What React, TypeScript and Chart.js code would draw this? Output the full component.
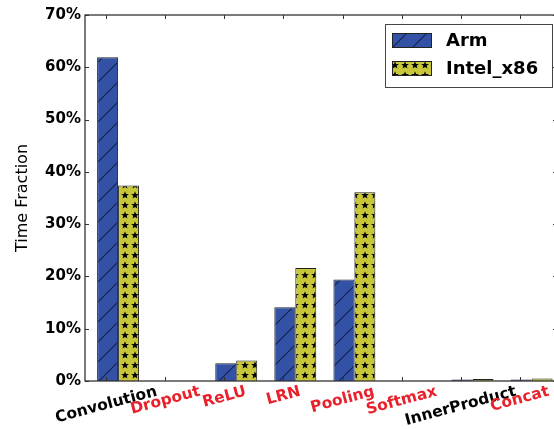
import React, { useEffect, useRef } from "react";
import { Chart, registerables } from "chart.js";

Chart.register(...registerables);

const categories = ["Convolution", "Dropout", "ReLU", "LRN", "Pooling", "Softmax", "InnerProduct", "Concat"];
const armValues = [61.9, 0, 3.4, 14.1, 19.4, 0, 0.3, 0.3];
const intelValues = [37.4, 0, 3.9, 21.6, 36.1, 0, 0.4, 0.5];
const seriesNames = ["Arm", "Intel_x86"];
const yTickValues = [0, 10, 20, 30, 40, 50, 60, 70];
const redLabels = ["Dropout", "ReLU", "LRN", "Pooling", "Softmax", "Concat"];

const FONT = "'DejaVu Sans', sans-serif";
const BLUE = "#3352a6";
const YELLOW = "#c8c73a";
const RED = "#e8222c";
const TICK_OFFSET = -0.2;

function makeHatch(ctx: CanvasRenderingContext2D) {
  const c = document.createElement("canvas");
  c.width = 20;
  c.height = 20;
  const g = c.getContext("2d")!;
  g.fillStyle = BLUE;
  g.fillRect(0, 0, 20, 20);
  g.strokeStyle = "#14204a";
  g.lineWidth = 1.1;
  g.beginPath();
  g.moveTo(-2, 22);
  g.lineTo(22, -2);
  g.moveTo(-2, 2);
  g.lineTo(2, -2);
  g.moveTo(18, 22);
  g.lineTo(22, 18);
  g.stroke();
  return ctx.createPattern(c, "repeat")!;
}

function makeStars(ctx: CanvasRenderingContext2D) {
  const c = document.createElement("canvas");
  c.width = 10;
  c.height = 10;
  const g = c.getContext("2d")!;
  g.fillStyle = YELLOW;
  g.fillRect(0, 0, 10, 10);
  g.fillStyle = "#000";
  g.beginPath();
  const cx = 5, cy = 5.3, ro = 4.1, ri = 1.75;
  for (let k = 0; k < 10; k++) {
    const r = k % 2 === 0 ? ro : ri;
    const a = -Math.PI / 2 + (k * Math.PI) / 5;
    const x = cx + r * Math.cos(a);
    const y = cy + r * Math.sin(a);
    if (k === 0) g.moveTo(x, y);
    else g.lineTo(x, y);
  }
  g.closePath();
  g.fill();
  return ctx.createPattern(c, "repeat")!;
}

const decorPlugin = {
  id: "decor",
  afterDraw(chart: any) {
    const { ctx, chartArea } = chart;
    const { left, right, top, bottom } = chartArea;
    const xs = chart.scales.x;
    const ys = chart.scales.y;
    ctx.save();
    // frame
    ctx.strokeStyle = "#333";
    ctx.lineWidth = 1.3;
    ctx.strokeRect(left, top, right - left, bottom - top);
    // inward ticks
    ctx.lineWidth = 1;
    ctx.beginPath();
    yTickValues.forEach((v) => {
      const y = Math.round(ys.getPixelForValue(v)) + 0.5;
      ctx.moveTo(left, y);
      ctx.lineTo(left + 4, y);
      ctx.moveTo(right, y);
      ctx.lineTo(right - 4, y);
    });
    categories.forEach((_, i) => {
      const x = Math.round(xs.getPixelForValue(i + TICK_OFFSET)) + 0.5;
      ctx.moveTo(x, bottom);
      ctx.lineTo(x, bottom - 4);
      ctx.moveTo(x, top);
      ctx.lineTo(x, top + 4);
    });
    ctx.stroke();
    // x labels
    const ang = (15 * Math.PI) / 180;
    ctx.font = `bold 15.5px ${FONT}`;
    ctx.textAlign = "center";
    ctx.textBaseline = "middle";
    categories.forEach((name, i) => {
      const x = xs.getPixelForValue(i + TICK_OFFSET);
      const w = ctx.measureText(name).width;
      const ext = w * Math.sin(ang) + 17.5 * Math.cos(ang);
      const y = bottom + 2 + ext / 2;
      ctx.save();
      ctx.translate(x, y);
      ctx.rotate(-ang);
      ctx.fillStyle = redLabels.includes(name) ? RED : "#000";
      ctx.fillText(name, 0, 0);
      ctx.restore();
    });
    // legend
    const bx = right - 172;
    const by = top + 9;
    const bw = 167;
    const bh = 63;
    ctx.fillStyle = "#fff";
    ctx.fillRect(bx, by, bw, bh);
    ctx.strokeStyle = "#444";
    ctx.lineWidth = 1;
    ctx.strokeRect(bx + 0.5, by + 0.5, bw, bh);
    const centers = [by + 16, by + 44];
    chart.data.datasets.forEach((ds: any, k: number) => {
      const cy = centers[k];
      ctx.fillStyle = ds.backgroundColor;
      ctx.fillRect(bx + 7, cy - 7, 39, 14);
      ctx.strokeStyle = "#222";
      ctx.strokeRect(bx + 7.5, cy - 6.5, 39, 14);
      ctx.fillStyle = "#000";
      ctx.font = `bold 18px ${FONT}`;
      ctx.textAlign = "left";
      ctx.textBaseline = "middle";
      ctx.fillText(ds.label, bx + 61, cy + 1);
    });
    ctx.restore();
  },
};

export default function App() {
  const ref = useRef<HTMLCanvasElement>(null);
  useEffect(() => {
    const canvas = ref.current!;
    const ctx = canvas.getContext("2d")!;
    const hatch = makeHatch(ctx);
    const stars = makeStars(ctx);
    const chart = new Chart(canvas, {
      type: "bar",
      data: {
        datasets: [
          {
            label: seriesNames[0],
            data: armValues.map((v, i) => ({ x: i, y: v })),
            backgroundColor: hatch as any,
            borderColor: "#222",
            borderWidth: 1,
          },
          {
            label: seriesNames[1],
            data: intelValues.map((v, i) => ({ x: i, y: v })),
            backgroundColor: stars as any,
            borderColor: "#222",
            borderWidth: 1,
          },
        ],
      },
      options: {
        animation: false,
        responsive: false,
        maintainAspectRatio: false,
        devicePixelRatio: 1,
        layout: { padding: { left: 0, top: 15, right: 23, bottom: 48 } },
        datasets: {
          bar: { categoryPercentage: 0.71, barPercentage: 1.0 },
        },
        plugins: {
          legend: { display: false },
          tooltip: { enabled: false },
        },
        scales: {
          x: {
            type: "linear",
            min: -0.56,
            max: 7.43,
            offset: false,
            display: false,
          },
          y: {
            min: 0,
            max: 70,
            afterFit: (s: any) => {
              s.width = 85;
            },
            grid: { display: false, drawTicks: false },
            border: { display: false },
            ticks: {
              stepSize: 10,
              padding: 4,
              color: "#000",
              font: { family: FONT, size: 15, weight: "bold" },
              callback: (v: any) => `${v}%`,
            },
            title: {
              display: true,
              text: "Time Fraction",
              color: "#000",
              font: { family: FONT, size: 16 },
              padding: { top: 13, bottom: 0 },
            },
          },
        },
      },
      plugins: [decorPlugin],
    });
    return () => chart.destroy();
  }, []);
  return (
    <div style={{ position: "fixed", left: 0, top: 0, width: 554, height: 429, overflow: "hidden", background: "#fff" }}>
      <canvas ref={ref} width={580} height={429} style={{ display: "block", width: 580, height: 429 }} />
    </div>
  );
}
